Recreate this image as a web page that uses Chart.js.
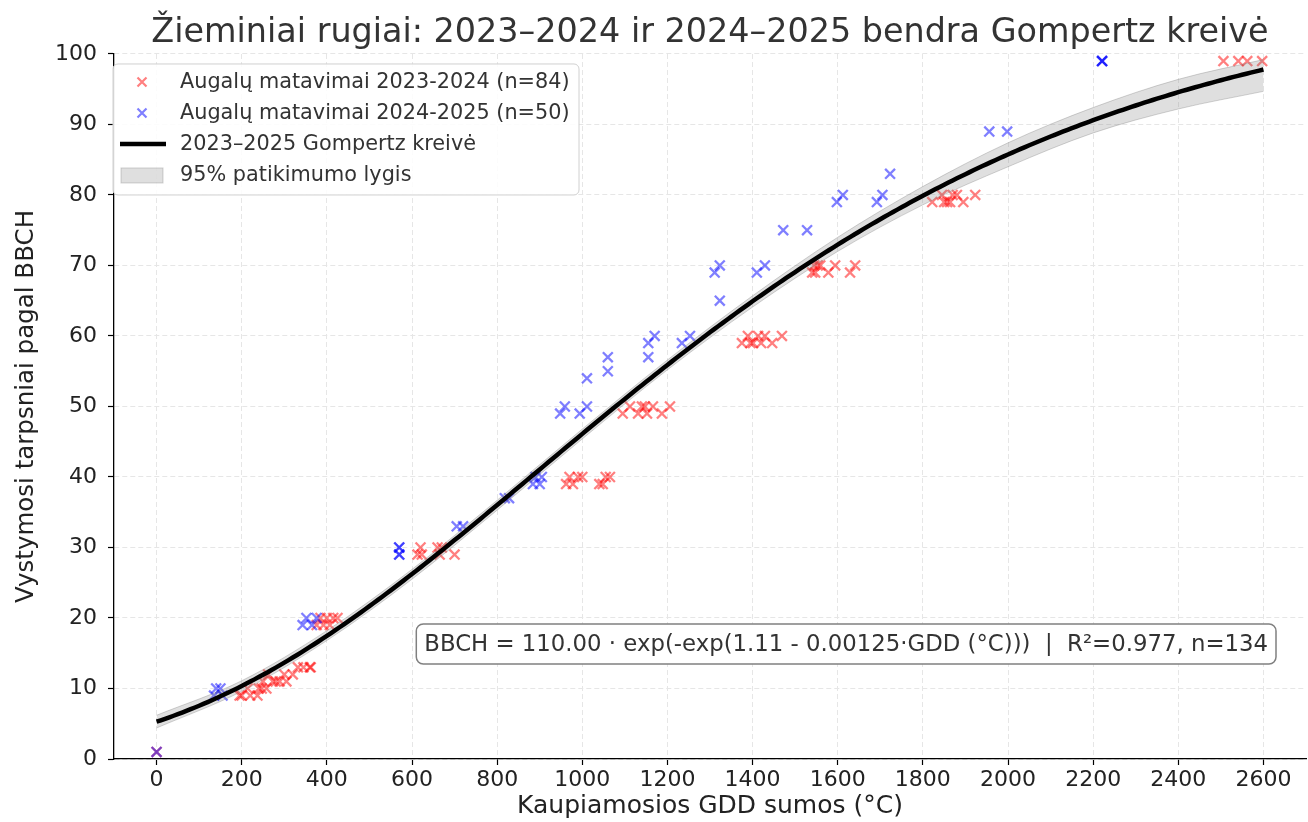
<!DOCTYPE html>
<html lang="lt">
<head>
<meta charset="utf-8">
<title>Žieminiai rugiai – Gompertz kreivė</title>
<script src="https://cdn.jsdelivr.net/npm/chart.js@4.4.1/dist/chart.umd.min.js"></script>
<style>
  html, body { margin: 0; padding: 0; background: #fff; }
  #wrap { width: 1308px; height: 822px; }
</style>
</head>
<body>
<div id="wrap"><canvas id="gompertzChart" width="1308" height="822"></canvas></div>
<script>
// 2023-2024 season measurements (GDD sum, BBCH stage)
const gdd2324 = [0,
  195, 200, 214, 220, 237, 240, 247, 250, 258, 262, 273, 280, 289, 300, 305, 320, 332, 345, 360, 362,
  376, 385, 392, 400, 407, 415, 425,
  613, 620, 623, 660, 665, 670, 700,
  962, 970, 978, 990, 1000, 1040, 1048, 1055, 1065,
  1095, 1112, 1131, 1140, 1147, 1152, 1166, 1187, 1206,
  1375, 1389, 1395, 1401, 1413, 1420, 1429, 1446, 1469,
  1540, 1545, 1547, 1553, 1559, 1578, 1594, 1629, 1641,
  1822, 1845, 1850, 1857, 1864, 1870, 1880, 1895, 1923,
  2506, 2541, 2562, 2597];
const bbch2324 = [1,
  9, 9, 10, 9, 9, 10, 10, 11, 10, 12, 11, 11, 11, 12, 11, 12, 13, 13, 13, 13,
  19, 20, 19, 20, 19, 20, 20,
  29, 30, 29, 30, 29, 30, 29,
  39, 40, 39, 40, 40, 39, 39, 40, 40,
  49, 50, 49, 50, 50, 49, 50, 49, 50,
  59, 60, 59, 59, 60, 59, 60, 59, 60,
  69, 70, 69, 70, 70, 69, 70, 69, 70,
  79, 80, 79, 79, 79, 80, 80, 79, 80,
  99, 99, 99, 99];

// 2024-2025 season measurements
const gdd2425 = [0, 135, 140, 150, 155, 343, 352, 365, 376, 570, 570, 570, 570,
  705, 720, 818, 828, 884, 890, 900, 905, 948, 959, 994, 1011, 1011, 1060, 1060,
  1155, 1155, 1170, 1234, 1253, 1311, 1323, 1323, 1410, 1429, 1472, 1528,
  1598, 1612, 1692, 1705, 1723, 1956, 1998, 2221, 2221, 2221];
const bbch2425 = [1, 9, 10, 10, 9, 19, 20, 19, 20, 29, 30, 29, 30,
  33, 33, 37, 37, 39, 40, 39, 40, 49, 50, 49, 50, 54, 55, 57,
  57, 59, 60, 59, 60, 69, 70, 65, 69, 70, 75, 75,
  79, 80, 79, 80, 83, 89, 89, 99, 99, 99];

// fitted Gompertz parameters (BBCH = A * exp(-exp(B - K * GDD)))
const fitA = 110.00;
const fitB = 1.11;
const fitK = 0.00125;
const fitR2 = 0.977;

// 95% band limits
const bandGdd = [0, 200, 400, 600, 800, 1000, 1200, 1400, 1600, 1800, 2000, 2200, 2400, 2600];
const bandLower = [4.4, 9.6, 16.8, 25.5, 35.3, 45.4, 55.2, 64.1, 72.0, 78.6, 84.0, 88.8, 92.2, 94.7];
const bandUpper = [6.2, 11.1, 18.2, 26.9, 36.7, 46.8, 56.6, 65.7, 74.0, 81.2, 87.4, 92.4, 96.4, 99.2];

const xTickValues = [0, 200, 400, 600, 800, 1000, 1200, 1400, 1600, 1800, 2000, 2200, 2400, 2600];

const labels2324 = 'Augalų matavimai 2023-2024 (n=' + gdd2324.length + ')';
const labels2425 = 'Augalų matavimai 2024-2025 (n=' + gdd2425.length + ')';
const curveLabel = '2023–2025 Gompertz kreivė';
const bandLabel = '95% patikimumo lygis';

const RED = 'rgba(255, 0, 0, 0.5)';
const BLUE = 'rgba(0, 0, 255, 0.5)';
const BAND_FILL = 'rgba(128, 128, 128, 0.25)';
const BAND_EDGE = 'rgba(128, 128, 128, 0.35)';

const toPoints = (xs, ys) => xs.map((x, i) => ({ x: x, y: ys[i] }));

const curve = [];
for (let g = 0; g <= 2600; g += 10) {
  curve.push({ x: g, y: fitA * Math.exp(-Math.exp(fitB - fitK * g)) });
}

function roundRect(ctx, x, y, w, h, r) {
  ctx.beginPath();
  ctx.moveTo(x + r, y);
  ctx.lineTo(x + w - r, y);
  ctx.arcTo(x + w, y, x + w, y + r, r);
  ctx.lineTo(x + w, y + h - r);
  ctx.arcTo(x + w, y + h, x + w - r, y + h, r);
  ctx.lineTo(x + r, y + h);
  ctx.arcTo(x, y + h, x, y + h - r, r);
  ctx.lineTo(x, y + r);
  ctx.arcTo(x, y, x + r, y, r);
  ctx.closePath();
}

function drawCross(ctx, x, y, s, color) {
  ctx.strokeStyle = color;
  ctx.lineWidth = 2.2;
  ctx.beginPath();
  ctx.moveTo(x - s, y - s); ctx.lineTo(x + s, y + s);
  ctx.moveTo(x - s, y + s); ctx.lineTo(x + s, y - s);
  ctx.stroke();
}

// legend in the upper left corner of the plot area
const legendBox = {
  id: 'legendBox',
  afterDraw(chart) {
    const { ctx, chartArea: ca } = chart;
    const x0 = ca.left - 1, y0 = ca.top + 10, w = 466, h = 131;
    ctx.save();
    roundRect(ctx, x0, y0, w, h, 5);
    ctx.fillStyle = 'rgba(255,255,255,0.85)';
    ctx.fill();
    ctx.strokeStyle = '#d0d0d0';
    ctx.lineWidth = 1;
    ctx.stroke();

    const rows = [y0 + 18, y0 + 49, y0 + 80, y0 + 111];
    drawCross(ctx, x0 + 29, rows[0], 4.5, RED);
    drawCross(ctx, x0 + 29, rows[1], 4.5, BLUE);

    ctx.strokeStyle = '#000';
    ctx.lineWidth = 4.5;
    ctx.beginPath();
    ctx.moveTo(x0 + 7, rows[2]);
    ctx.lineTo(x0 + 53, rows[2]);
    ctx.stroke();

    ctx.fillStyle = BAND_FILL;
    ctx.fillRect(x0 + 8, rows[3] - 7, 42, 15);
    ctx.strokeStyle = BAND_EDGE;
    ctx.lineWidth = 1;
    ctx.strokeRect(x0 + 8, rows[3] - 7, 42, 15);

    ctx.fillStyle = '#333';
    ctx.font = '20.8px "DejaVu Sans"';
    ctx.textBaseline = 'middle';
    ctx.textAlign = 'left';
    [labels2324, labels2425, curveLabel, bandLabel].forEach((t, i) => {
      ctx.fillText(t, x0 + 67, rows[i] + 1);
    });
    ctx.restore();
  }
};

// equation box in the lower right part of the plot area
const equationBox = {
  id: 'equationBox',
  afterDraw(chart) {
    const { ctx, chartArea: ca } = chart;
    const n = gdd2324.length + gdd2425.length;
    const text = 'BBCH = ' + fitA.toFixed(2) + ' · exp(-exp(' + fitB.toFixed(2) + ' - ' +
      fitK.toFixed(5) + '·GDD (°C)))  |  R²=' + fitR2.toFixed(3) + ', n=' + n;
    ctx.save();
    ctx.font = '22.8px "DejaVu Sans"';
    const tw = ctx.measureText(text).width;
    const right = ca.right - 30, bottom = ca.bottom - 95;
    const bw = tw + 16, bh = 40;
    roundRect(ctx, right - bw, bottom - bh, bw, bh, 7);
    ctx.fillStyle = '#fff';
    ctx.fill();
    ctx.strokeStyle = '#808080';
    ctx.lineWidth = 1.5;
    ctx.stroke();
    ctx.fillStyle = '#333';
    ctx.textBaseline = 'middle';
    ctx.textAlign = 'center';
    ctx.fillText(text, right - bw / 2, bottom - bh / 2 + 1);
    ctx.restore();
  }
};

Chart.defaults.font.family = '"DejaVu Sans", sans-serif';
Chart.defaults.color = '#222';

new Chart(document.getElementById('gompertzChart'), {
  type: 'scatter',
  data: {
    datasets: [
      {
        label: curveLabel,
        data: curve,
        showLine: true,
        borderColor: '#000',
        borderWidth: 4.5,
        pointRadius: 0,
        order: 0
      },
      {
        label: bandLabel,
        data: toPoints(bandGdd, bandUpper),
        showLine: true,
        cubicInterpolationMode: 'monotone',
        borderColor: BAND_EDGE,
        borderWidth: 1,
        backgroundColor: BAND_FILL,
        fill: '+1',
        pointRadius: 0,
        order: 1
      },
      {
        label: 'band lower',
        data: toPoints(bandGdd, bandLower),
        showLine: true,
        cubicInterpolationMode: 'monotone',
        borderColor: BAND_EDGE,
        borderWidth: 1,
        pointRadius: 0,
        order: 2
      },
      {
        label: labels2425,
        data: toPoints(gdd2425, bbch2425),
        pointStyle: 'crossRot',
        pointRadius: 7,
        borderWidth: 2.3,
        borderColor: BLUE,
        backgroundColor: BLUE,
        order: 3
      },
      {
        label: labels2324,
        data: toPoints(gdd2324, bbch2324),
        pointStyle: 'crossRot',
        pointRadius: 7,
        borderWidth: 2.3,
        borderColor: RED,
        backgroundColor: RED,
        order: 4
      }
    ]
  },
  options: {
    responsive: false,
    animation: false,
    // no automatic padding for point overflow, the axes sit right at the edges
    layout: { autoPadding: false, padding: { left: 0, right: 2, top: 0, bottom: 0 } },
    plugins: {
      legend: { display: false },
      tooltip: { enabled: false },
      title: {
        display: true,
        fullSize: false,
        text: 'Žieminiai rugiai: 2023–2024 ir 2024–2025 bendra Gompertz kreivė',
        color: '#333',
        font: { size: 33.4, weight: 'normal', lineHeight: 1.2 },
        padding: { top: 13, bottom: 0.9 }
      }
    },
    scales: {
      x: {
        type: 'linear',
        min: -100,
        max: 2700,
        afterBuildTicks: s => { s.ticks = xTickValues.map(v => ({ value: v })); },
        afterFit: s => { s.height = 63; },
        ticks: { font: { size: 22 }, padding: 2, maxRotation: 0, callback: v => String(v) },
        grid: { color: '#e6e6e6', lineWidth: 1, tickColor: '#000', tickLength: 6, tickWidth: 1.2 },
        border: { color: '#000', width: 1.3, dash: [5, 3] },
        title: { display: true, text: 'Kaupiamosios GDD sumos (°C)', font: { size: 25 }, padding: { top: 0, bottom: 1 } }
      },
      y: {
        min: 0,
        max: 100,
        afterFit: s => { s.width = 114; },
        ticks: { stepSize: 10, font: { size: 22 }, padding: 11, callback: v => String(v) },
        grid: { color: '#e6e6e6', lineWidth: 1, tickColor: '#000', tickLength: 6, tickWidth: 1.2 },
        border: { color: '#000', width: 1.3, dash: [5, 3] },
        title: { display: true, text: 'Vystymosi tarpsniai pagal BBCH', font: { size: 24.5 }, padding: { top: 12, bottom: 0 } }
      }
    }
  },
  plugins: [legendBox, equationBox]
});
</script>
</body>
</html>
